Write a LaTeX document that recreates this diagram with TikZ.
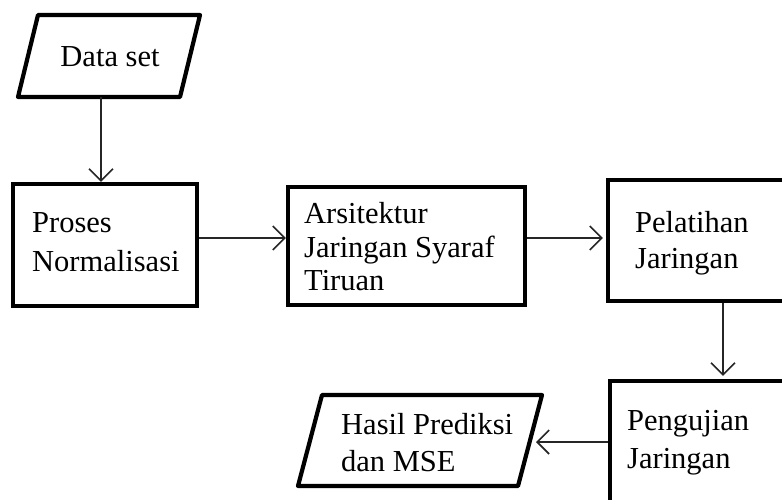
\documentclass[tikz,border=0pt]{standalone}
\usepackage{fontspec}
\setmainfont{Liberation Serif}
\usetikzlibrary{arrows.meta}
\begin{document}
\begin{tikzpicture}[x=1pt,y=-1pt,
  shp/.style={line width=4.2pt, line join=round},
  box/.style={draw, line width=4.2pt, rectangle, inner sep=0pt},
  conn/.style={line width=1.6pt, draw=black!85, -{Straight Barb[length=12pt,width=24pt,line width=1.6pt]}},
  lbl/.style={align=left, inner sep=0pt, anchor=west, text=black}]
\useasboundingbox (0,0) rectangle (782,499);
\clip (0,0) rectangle (782,499);
% Data set (parallelogram)
\draw[shp] (38,15) -- (200,15) -- (180,97) -- (18,97) -- cycle;
\node[lbl, anchor=center, font=\fontsize{30.5}{35}\selectfont] (tds) at (110,57) {Data set};
\coordinate (dsb) at (101,97);
% Process boxes
\node[box, minimum width=184pt, minimum height=122pt] (p1) at (105,245) {};
\node[lbl, font=\fontsize{30.5}{39}\selectfont] (t1) at (32,242) {Proses\\Normalisasi};
\node[box, minimum width=237pt, minimum height=118pt] (p2) at (406.5,246) {};
\node[lbl, font=\fontsize{30.5}{33.5}\selectfont] (t2) at (304,247) {Arsitektur\\Jaringan Syaraf\\Tiruan};
\node[box, minimum width=212pt, minimum height=121pt] (p3) at (714,240.5) {};
\node[lbl, font=\fontsize{30.5}{36}\selectfont] (t3) at (635,243) {Pelatihan\\Jaringan};
\node[box, minimum width=210pt, minimum height=159pt] (p4) at (715,460.5) {};
\node[lbl, font=\fontsize{30.5}{38}\selectfont] (t4) at (627,443) {Pengujian\\Jaringan};
% Hasil (parallelogram)
\draw[shp] (322,395) -- (542,395) -- (518,486) -- (298,486) -- cycle;
\node[lbl, font=\fontsize{30.5}{37}\selectfont] (t5) at (341,443) {Hasil Prediksi\\dan MSE};
\coordinate (hr) at (536,442);
% Connectors
\draw[conn] (dsb) -- ([xshift=-4pt]p1.north);
\draw[conn] ([yshift=7pt]p1.east) -- ([yshift=8pt]p2.west) ;
\draw[conn, shorten >=3pt] ([yshift=8pt]p2.east) -- ([yshift=2.5pt]p3.west);
\draw[conn, shorten >=3pt] ([xshift=9pt]p3.south) -- ([xshift=8pt]p4.north);
\draw[conn] ([yshift=18.5pt]p4.west) -- (hr);
\end{tikzpicture}
\end{document}
